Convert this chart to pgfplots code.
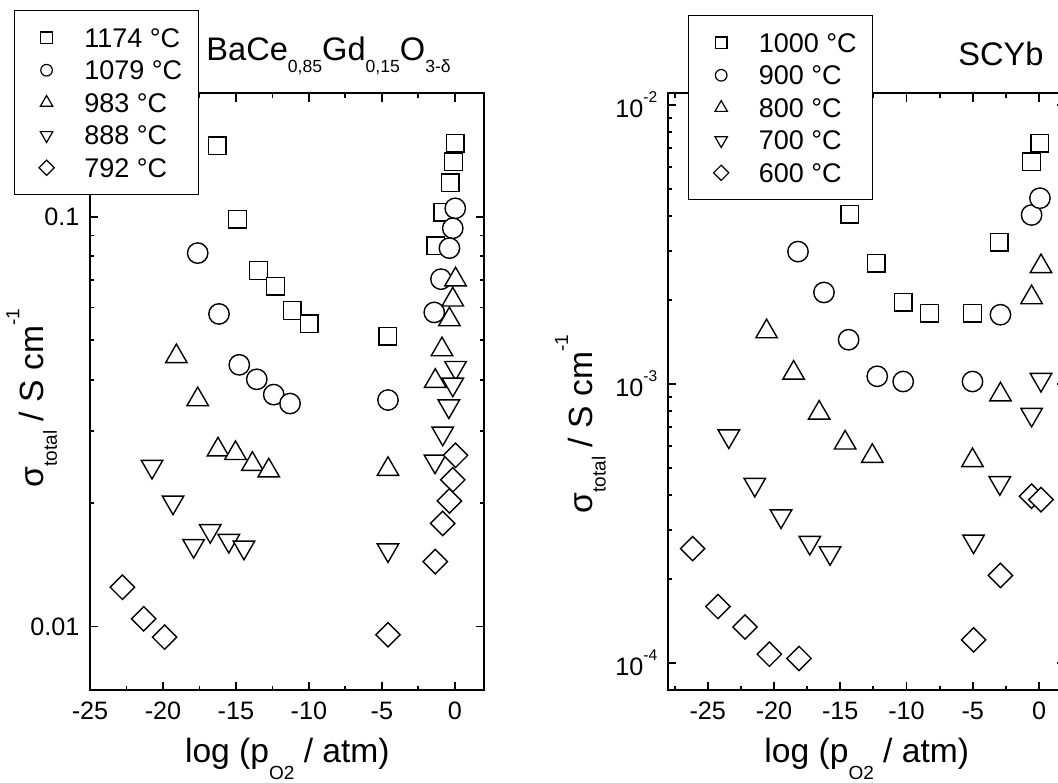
\documentclass[border=0pt]{standalone}
\usepackage{pgfplots}
\pgfplotsset{compat=1.18}
\usepackage{fontspec}
\setmainfont{Liberation Sans}
\newcommand{\lo}[2][6pt]{\raisebox{-#1}{\fontsize{9.5}{10}\selectfont #2}}
\newcommand{\tlo}[2][6pt]{\raisebox{-#1}{\fontsize{8.8}{10}\selectfont #2}}
\newcommand{\hi}[2][7.5pt]{\raisebox{#1}{\fontsize{7.8}{9}\selectfont #2}}
\newcommand{\lhi}[2][7.5pt]{\raisebox{#1}{\fontsize{9.5}{10}\selectfont #2}}
\pgfplotsset{
  every axis/.append style={
    scale only axis, clip=false,
    height=298.35pt,
    axis line style={line width=1pt},
    major tick length=4.2pt, minor tick length=2.2pt,
    tick align=inside,
    tick style={line width=0.9pt, black},
    xtick={-25,-20,-15,-10,-5,0},
    xticklabels={-25,-20,-15,-10,-5,0},
    ticklabel style={font=\fontsize{12.6}{14}\selectfont},
    xticklabel style={yshift=-2.4pt},
    yticklabel style={xshift=-1.8pt},
    xlabel style={font=\fontsize{16.8}{19}\selectfont, anchor=base},
    ylabel style={font=\fontsize{16.8}{19}\selectfont, anchor=base},
    legend style={anchor=north west, draw=black, line width=0.5pt, fill=white,
      font=\fontsize{13.5}{15}\selectfont,
      nodes={inner sep=0pt, text height=9.7pt, text depth=0pt},
      inner xsep=8pt, inner ysep=8.7pt, row sep=6.55pt, column sep=10.6pt},
    legend cell align=left,
  },
  legend image code/.code={\draw[#1] plot coordinates {(0pt,0pt)}; \path (-8pt,0pt) (8pt,0pt);},
}
\begin{document}
\begin{tikzpicture}
% ---------------- left panel ----------------
\begin{axis}[at={(45pt,46pt)}, anchor=south west, width=197pt,
  ymode=log,
  xmin=-25, xmax=2, ymin=0.007, ymax=0.2,
  minor xtick={-22.5,-17.5,-12.5,-7.5,-2.5},
  ytick={0.01,0.1}, yticklabels={0.01,0.1},
  xlabel={log (p\lo[8.3pt]{O2} / atm)},
  ylabel={σ\lo[6.8pt]{total} / S cm\lhi[12pt]{-1}},
  xlabel style={at={(axis description cs:0.501,-0.1223)}},
  ylabel style={at={(axis description cs:-0.1185,0.4893)}},
  legend style={at={(-0.194,1.1394)}},
]
\addplot[only marks, mark=square*, mark size=4.4pt, mark options={fill=white, draw=black, line width=0.7pt}, forget plot] coordinates {(-16.27,0.149) (-14.89,0.0987) (-13.45,0.0739) (-12.29,0.0676) (-11.14,0.0590) (-9.98,0.0548) (-4.58,0.0511) (0.03,0.151) (-0.09,0.136) (-0.32,0.121) (-0.83,0.1025) (-1.29,0.085)};
\addplot[only marks, mark=*, mark size=5.1pt, mark options={fill=white, draw=black, line width=0.7pt}, forget plot] coordinates {(-17.62,0.0815) (-16.16,0.0579) (-14.77,0.0435) (-13.57,0.0401) (-12.41,0.0368) (-11.29,0.0350) (-4.58,0.0357) (0.03,0.1048) (-0.14,0.0937) (-0.37,0.0838) (-0.95,0.0704) (-1.41,0.0584)};
\addplot[only marks, mark=triangle*, mark size=6.2pt, mark options={fill=white, draw=black, line width=0.7pt}, forget plot] coordinates {(-19.08,0.0456) (-17.62,0.0358) (-16.23,0.0270) (-15.03,0.02646) (-13.87,0.0249) (-12.75,0.0240) (-4.58,0.0242) (0.05,0.0702) (-0.14,0.0627) (-0.37,0.0561) (-0.88,0.0474) (-1.34,0.0397)};
\addplot[only marks, mark=triangle*, mark size=6.2pt, mark options={fill=white, draw=black, line width=0.7pt, rotate=180}, forget plot] coordinates {(-20.75,0.02456) (-19.31,0.0201) (-16.76,0.01712) (-17.9,0.01574) (-15.49,0.0162) (-14.45,0.0156) (-4.58,0.01537) (0.05,0.0428) (-0.14,0.0390) (-0.41,0.0345) (-0.83,0.0296) (-1.36,0.0253)};
\addplot[only marks, mark=square*, mark size=4.3pt, mark options={fill=white, draw=black, line width=0.7pt, rotate=45}, forget plot] coordinates {(-22.78,0.01247) (-21.32,0.01044) (-19.89,0.00942) (-4.58,0.00955) (0.05,0.02617) (-0.14,0.0228) (-0.37,0.02025) (-0.83,0.01785) (-1.34,0.0144)};
\addlegendimage{mark=square*, mark size=2.9pt, mark options={fill=white, draw=black, line width=0.6pt}}\addlegendentry{1174 °C}
\addlegendimage{mark=*, mark size=2.9pt, mark options={fill=white, draw=black, line width=0.6pt}}\addlegendentry{1079 °C}
\addlegendimage{mark=triangle*, mark size=3.6pt, mark options={fill=white, draw=black, line width=0.6pt}}\addlegendentry{983 °C}
\addlegendimage{mark=triangle*, mark size=3.6pt, mark options={fill=white, draw=black, line width=0.6pt, rotate=180}}\addlegendentry{888 °C}
\addlegendimage{mark=square*, mark size=2.7pt, mark options={fill=white, draw=black, line width=0.6pt, rotate=45}}\addlegendentry{792 °C}
\node[anchor=base west, inner sep=0pt, font=\fontsize{16.3}{18}\selectfont] at (axis description cs:0.2944,1.0558)
  {BaCe\tlo[6pt]{0,85}Gd\tlo[6pt]{0,15}O\tlo[6pt]{3-δ}};
\end{axis}
% ---------------- right panel ----------------
\begin{axis}[at={(334pt,46pt)}, anchor=south west, width=198.75pt,
  ymode=log,
  xmin=-28, xmax=2, ymin=8e-5, ymax=0.011,
  minor xtick={-27.5,-22.5,-17.5,-12.5,-7.5,-2.5},
  ytick={1e-4,1e-3,1e-2}, yticklabels={10\hi{-4},10\hi{-3},10\hi{-2}},
  xlabel={log (p\lo[8.3pt]{O2} / atm)},
  ylabel={σ\lo[6.8pt]{total} / S cm\lhi[12pt]{-1}},
  xlabel style={at={(axis description cs:0.5,-0.1223)}},
  ylabel style={at={(axis description cs:-0.1912,0.4458)}},
  legend style={at={(0.0508,1.1309)}},
]
\addplot[only marks, mark=square*, mark size=4.4pt, mark options={fill=white, draw=black, line width=0.7pt}, forget plot] coordinates {(-14.29,0.004057) (-12.28,0.00271) (-10.25,0.001965) (-8.26,0.001795) (-5.02,0.001795) (-2.99,0.00322) (-0.56,0.00626) (0.07,0.00728)};
\addplot[only marks, mark=*, mark size=5.1pt, mark options={fill=white, draw=black, line width=0.7pt}, forget plot] coordinates {(-18.19,0.00298) (-16.23,0.002127) (-14.37,0.00144) (-12.21,0.001065) (-10.25,0.00102) (-5.02,0.00102) (-2.91,0.00177) (-0.56,0.00403) (0.07,0.00463)};
\addplot[only marks, mark=triangle*, mark size=6.2pt, mark options={fill=white, draw=black, line width=0.7pt}, forget plot] coordinates {(-20.56,0.00154) (-18.52,0.001095) (-16.59,0.000787) (-14.63,0.000615) (-12.58,0.000551) (-5.02,0.000532) (-2.91,0.000915) (-0.56,0.00204) (0.15,0.002635)};
\addplot[only marks, mark=triangle*, mark size=6.2pt, mark options={fill=white, draw=black, line width=0.7pt, rotate=180}, forget plot] coordinates {(-23.41,0.000650) (-21.45,0.000436) (-19.47,0.000336) (-17.3,0.00027) (-15.77,0.000248) (-4.94,0.000273) (-2.96,0.000442) (-0.56,0.000777) (0.15,0.001036)};
\addplot[only marks, mark=square*, mark size=4.3pt, mark options={fill=white, draw=black, line width=0.7pt, rotate=45}, forget plot] coordinates {(-26.14,0.000257) (-24.23,0.0001593) (-22.19,0.0001346) (-20.35,0.0001075) (-18.11,0.0001038) (-4.94,0.000121) (-2.91,0.000206) (-0.56,0.000396) (0.15,0.000385)};
\addlegendimage{mark=square*, mark size=2.9pt, mark options={fill=white, draw=black, line width=0.6pt}}\addlegendentry{1000 °C}
\addlegendimage{mark=*, mark size=2.9pt, mark options={fill=white, draw=black, line width=0.6pt}}\addlegendentry{900 °C}
\addlegendimage{mark=triangle*, mark size=3.6pt, mark options={fill=white, draw=black, line width=0.6pt}}\addlegendentry{800 °C}
\addlegendimage{mark=triangle*, mark size=3.6pt, mark options={fill=white, draw=black, line width=0.6pt, rotate=180}}\addlegendentry{700 °C}
\addlegendimage{mark=square*, mark size=2.7pt, mark options={fill=white, draw=black, line width=0.6pt, rotate=45}}\addlegendentry{600 °C}
\node[anchor=base west, inner sep=0pt, font=\fontsize{16.3}{18}\selectfont] at (axis description cs:0.7296,1.0474) {SCYb};
\end{axis}
\pgfresetboundingbox
\useasboundingbox (0,0) rectangle (529pt,391pt);
\end{tikzpicture}
\end{document}
